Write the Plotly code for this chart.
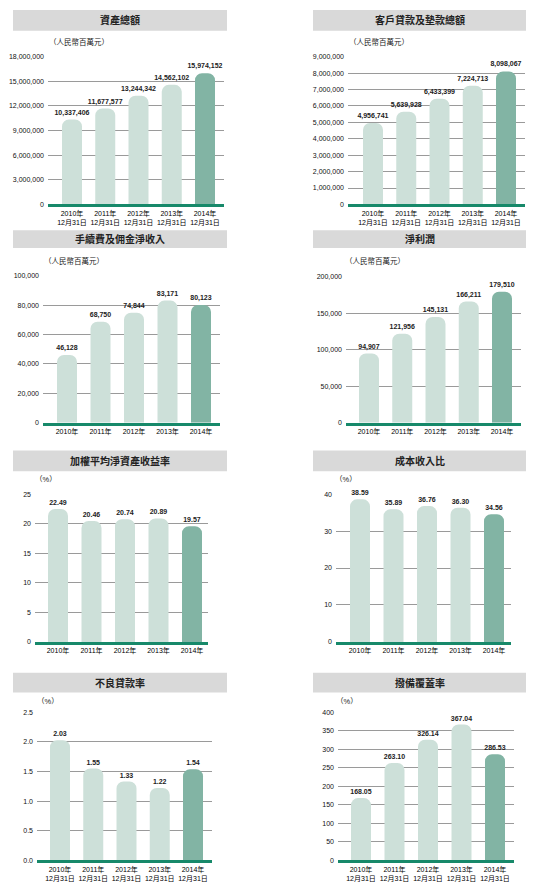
import plotly.graph_objects as go

# categories
years = ["2010年", "2011年", "2012年", "2013年", "2014年"]
year_ends = [y + "<br>12月31日" for y in years]

# series values
total_assets = [10337406, 11677577, 13244342, 14562102, 15974152]
loans = [4956741, 5639928, 6433399, 7224713, 8098067]
fee_income = [46128, 68750, 74844, 83171, 80123]
net_profit = [94907, 121956, 145131, 166211, 179510]
roe = [22.49, 20.46, 20.74, 20.89, 19.57]
cost_income = [38.59, 35.89, 36.76, 36.30, 34.56]
npl_ratio = [2.03, 1.55, 1.33, 1.22, 1.54]
coverage = [168.05, 263.10, 326.14, 367.04, 286.53]

titles = ["資產總額", "客戶貸款及墊款總額", "手續費及佣金淨收入", "淨利潤",
          "加權平均淨資產收益率", "成本收入比", "不良貸款率", "撥備覆蓋率"]
units = ["（人民幣百萬元）"] * 4 + ["（%）"] * 4
yticks = [
    [0, 3000000, 6000000, 9000000, 12000000, 15000000, 18000000],
    [0, 1000000, 2000000, 3000000, 4000000, 5000000, 6000000, 7000000, 8000000, 9000000],
    [0, 20000, 40000, 60000, 80000, 100000],
    [0, 50000, 100000, 150000, 200000],
    [0, 5, 10, 15, 20, 25],
    [0, 10, 20, 30, 40],
    [0, 0.5, 1.0, 1.5, 2.0, 2.5],
    [0, 50, 100, 150, 200, 250, 300, 350, 400],
]

# the page body has an 8px margin, so the figure is drawn 8px in from the corner
OFF = 8
W, H = 536 - OFF, 887 - OFF
FONT = "Arial, Noto Sans CJK TC, sans-serif"
LIGHT = "#cde0d9"
DARK = "#82b4a4"
GREEN = "#17896a"


def px(x):
    return (x - OFF) / W


def py(y):
    return 1 - (y - OFF) / H


# pixel layout: grid left, grid right, top grid y, baseline y, first bar x, last bar x,
# title bar y0, y1, unit label x, y
panels = [
    dict(data=total_assets, cats=year_ends, fmt="%{y:,}", tf=",", L=48, R=224, T=53, B=202, c0=72, c4=205, ty=(6, 27), ux=47, uy=38),
    dict(data=loans, cats=year_ends, fmt="%{y:,}", tf=",", L=348, R=525, T=53, B=202, c0=373, c4=506, ty=(6, 27), ux=347, uy=38),
    dict(data=fee_income, cats=years, fmt="%{y:,}", tf=",", L=43, R=220, T=274, B=422, c0=67, c4=201, ty=(228, 246), ux=42, uy=259),
    dict(data=net_profit, cats=years, fmt="%{y:,}", tf=",", L=346, R=521, T=275, B=422, c0=369, c4=502, ty=(228, 246), ux=343, uy=259),
    dict(data=roe, cats=years, fmt="%{y:.2f}", tf="d", L=35, R=208, T=494, B=643, c0=58, c4=192, ty=(450, 471), ux=33, uy=479),
    dict(data=cost_income, cats=years, fmt="%{y:.2f}", tf="d", L=336, R=511, T=494, B=643, c0=360, c4=494, ty=(450, 471), ux=333, uy=479),
    dict(data=npl_ratio, cats=year_ends, fmt="%{y:.2f}", tf=".1f", L=37, R=212, T=714, B=863, c0=60, c4=193, ty=(674, 694), ux=35, uy=703),
    dict(data=coverage, cats=year_ends, fmt="%{y:.2f}", tf="d", L=338, R=514, T=714, B=863, c0=361, c4=495, ty=(674, 694), ux=334, uy=703),
]

fig = go.Figure()
shapes = []
annotations = []

for i, p in enumerate(panels):
    n = "" if i == 0 else str(i + 1)
    s = (p["c4"] - p["c0"]) / 4
    fig.add_trace(go.Bar(
        x=p["cats"], y=p["data"],
        xaxis="x" + n, yaxis="y" + n,
        width=20 / s,
        marker=dict(color=[LIGHT] * 4 + [DARK], cornerradius=7, line=dict(width=0)),
        texttemplate="<b>" + p["fmt"] + "</b>", textposition="outside", cliponaxis=False,
        constraintext="none",
        textfont=dict(size=7, color="#222", family=FONT),
        showlegend=False,
    ))
    fig.update_layout(**{
        "xaxis" + n: dict(
            domain=[px(p["L"]), px(p["R"])], anchor="y" + n,
            range=[-(p["c0"] - p["L"]) / s, 4 + (p["R"] - p["c4"]) / s],
            showgrid=False, showline=True, linecolor=GREEN, linewidth=3,
            ticks="", tickfont=dict(size=7, color="#000", family=FONT),
            fixedrange=True,
        ),
        "yaxis" + n: dict(
            domain=[py(p["B"]), py(p["T"])], anchor="x" + n,
            range=[0, yticks[i][-1]], tickvals=yticks[i], tickformat=p["tf"],
            showgrid=True, gridcolor="#9a9a9a", gridwidth=1, zeroline=False,
            showline=False, ticks="", ticklabelstandoff=3,
            tickfont=dict(size=7, color="#111", family=FONT),
            fixedrange=True,
        ),
    })
    # title bar
    x0, x1 = (13, 227) if i % 2 == 0 else (313, 526)
    shapes.append(dict(type="rect", xref="paper", yref="paper",
                       x0=px(x0), x1=px(x1), y0=py(p["ty"][1]), y1=py(p["ty"][0]),
                       fillcolor="#d9d9d9", line=dict(width=0), layer="below"))
    annotations.append(dict(xref="paper", yref="paper", x=px((x0 + x1) / 2),
                            y=py((p["ty"][0] + p["ty"][1]) / 2),
                            text="<b>" + titles[i] + "</b>", showarrow=False,
                            font=dict(size=10, color="#222", family=FONT),
                            xanchor="center", yanchor="middle"))
    annotations.append(dict(xref="paper", yref="paper", x=px(p["ux"]), y=py(p["uy"]),
                            text=units[i], showarrow=False,
                            font=dict(size=7.5, color="#222", family=FONT),
                            xanchor="left", yanchor="middle"))

fig.update_layout(
    width=W, height=H,
    margin=dict(l=0, r=0, t=0, b=0),
    paper_bgcolor="white", plot_bgcolor="white",
    shapes=shapes, annotations=annotations,
    font=dict(family=FONT),
)

fig.write_html("out.html")
